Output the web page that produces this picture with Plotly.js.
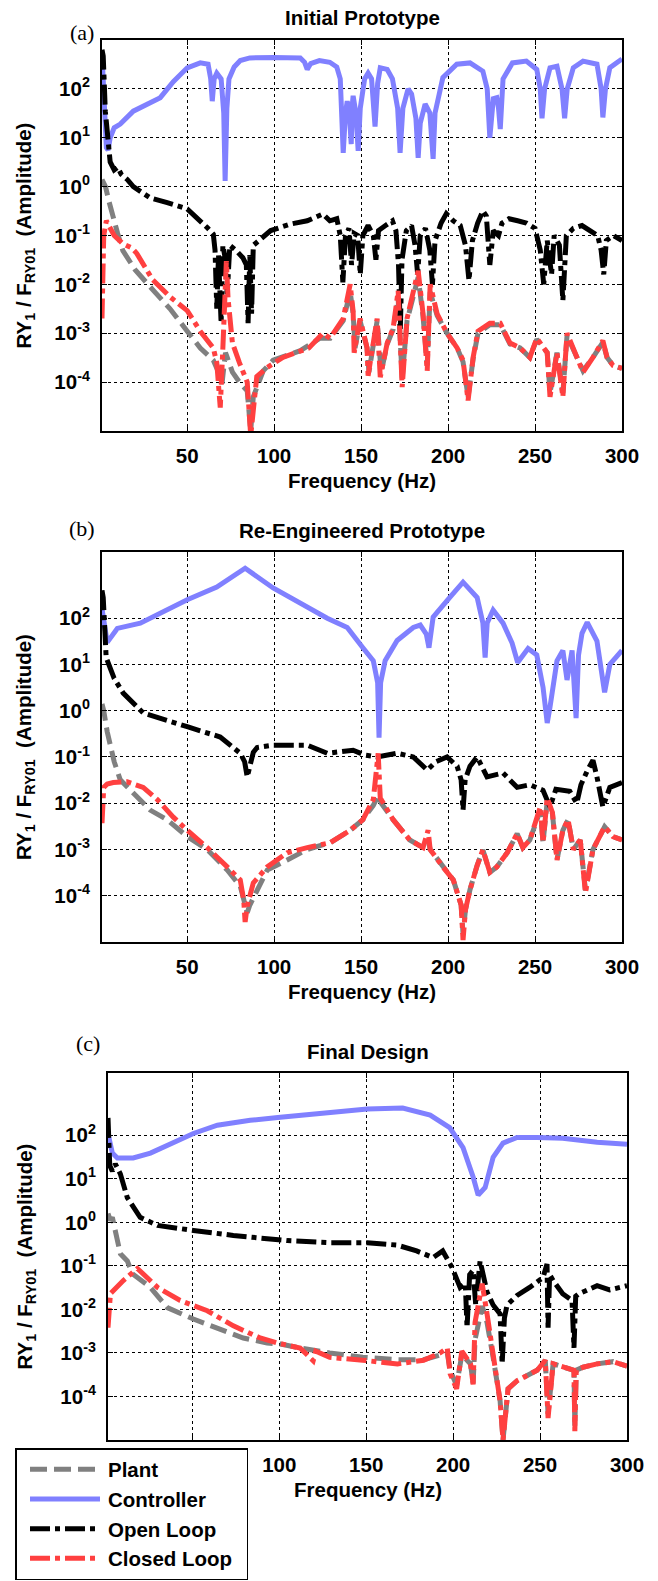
<!DOCTYPE html>
<html>
<head>
<meta charset="utf-8">
<script src="https://cdn.plot.ly/plotly-3.0.1.min.js"></script>
<style>
  html, body { margin: 0; padding: 0; background: #ffffff; }
  #chart { width: 658px; height: 1581px; }
</style>
</head>
<body>
<div id="chart"></div>
<script>
// ---------- (a) Initial Prototype ----------
const aPlantHz = [1, 3, 5, 6.9, 10, 13, 20, 30, 40, 50, 57.5, 65, 68, 70, 71, 72, 73, 76, 80, 84.5, 86.5, 88, 93.7, 99.4, 115, 126.4,
  132.2, 139.7, 143.7, 145.4, 146.5, 149.4, 153.4, 154.5, 159.2, 161.5, 165, 168.4, 171.3, 173.6, 176.4, 179.3, 182.8, 185.6, 188, 189.7,
  193.7, 199.4, 205.2, 208.6, 211.5, 214.4, 217.2, 224, 230, 235.6, 241.4, 247, 251, 257, 258.6, 262.6, 266, 268.4, 274, 277.6,
  283.3, 289, 291.4, 294.8, 300];
const aPlant = [1.4, 1.0, 0.5, 0.27, 0.11, 0.049, 0.02, 0.0079, 0.0032, 0.0011, 5e-4, 2.8e-4, 1.6e-4, 9.3e-5, 2.5e-4, 4e-4, 3.2e-4, 1.6e-4, 1e-4, 6.6e-5, 1e-5, 5e-5, 1.7e-4, 2.8e-4, 4.4e-4, 7.9e-4,
  7.9e-4, 1.8e-3, 7e-3, 2.5e-3, 5e-4, 1.8e-3, 5e-4, 1.6e-4, 1.8e-3, 1.6e-4, 6e-4, 1.2e-3, 5e-3, 1.2e-4, 1.8e-3, 5e-3, 0.014, 2.2e-3, 2.2e-4, 7e-3,
  2.3e-3, 1e-3, 5e-4, 2.6e-4, 5e-5, 3e-4, 1e-3, 1.5e-3, 1.5e-3, 6e-4, 5e-4, 3.2e-4, 7.5e-4, 4e-4, 6e-5, 4e-4, 6e-5, 9e-4, 3.2e-4, 1.7e-4,
  3.2e-4, 6.5e-4, 3.2e-4, 2.2e-4, 1.9e-4];

const aCtrlHz = [1, 2.3, 3.5, 4.5, 5.7, 8, 11.5, 19, 28, 34.5, 42, 50, 57.5, 62, 63.5, 64.4, 65.5, 67, 69.5, 71, 71.8, 72.8, 74, 77, 80.5,
  86, 100, 115, 117.5, 119, 121, 126, 132, 136, 138, 139.7, 141, 142, 143.2, 144.3, 145, 145.4, 147, 148.3, 149.5, 152, 154, 156, 158,
  159.5, 161, 165, 168, 171, 172.4, 174, 177, 179, 181.5, 182.8, 184, 186.8, 189.5, 191.4, 192.5, 197, 205, 212.6, 220, 222.5, 224,
  226, 228, 229, 230, 231.6, 237, 245, 251, 253, 254, 255.5, 258.6, 262.6, 265.5, 267, 268.5, 272, 277.6, 285.6, 288, 289, 290.5, 293, 300];
const aCtrl = [520, 40, 6.3, 5.6, 10, 16, 19, 35, 50, 66, 140, 270, 340, 320, 160, 56, 160, 210, 160, 32, 1.3, 40, 160, 280, 380,
  430, 440, 430, 350, 250, 330, 380, 350, 280, 160, 4.9, 32, 56, 32, 7.4, 50, 72, 32, 5.4, 40, 160, 210, 160, 17,
  130, 270, 250, 160, 40, 4.9, 40, 100, 79, 25, 3.9, 20, 49, 32, 3.7, 32, 170, 320, 340, 230, 100, 10,
  63, 66, 40, 15, 160, 340, 370, 250, 100, 25, 100, 270, 290, 100, 25, 100, 270, 370, 320, 100, 26, 100, 270, 410];

const aOpenHz = [1, 1.7, 2.9, 4.6, 5.7, 8, 10, 12, 15.5, 19, 28.7, 38.5, 50, 61.5, 65, 66, 67, 68, 69.5, 70.5, 72, 73, 74.5, 78, 82,
  84, 85, 86, 87, 88, 98, 109, 119, 128, 132, 136, 138, 139.5, 141, 143, 144.5, 146, 148, 149.5, 151, 154, 157, 158.5, 160, 164,
  168, 170, 171.5, 172.5, 173.5, 176, 179, 181, 182.5, 184, 187, 189.5, 191, 192.5, 196, 199, 203, 207, 210, 212, 214, 217, 220,
  222, 224, 226, 229, 231, 235, 240, 245, 250, 253, 255, 257, 259.5, 261, 264, 266, 268, 272, 277, 282, 286, 288, 289.5, 291, 295, 300];
const aOpen = [630, 470, 35, 8.7, 3.2, 2.2, 2.5, 1.8, 1.4, 1.0, 0.59, 0.47, 0.35, 0.145, 0.107, 0.05, 0.0032, 0.04, 0.0016, 0.063, 0.032, 0.0063, 0.063, 0.05, 0.035,
  0.025, 0.0016, 0.04, 0.0025, 0.063, 0.126, 0.17, 0.2, 0.275, 0.2, 0.22, 0.1, 0.011, 0.1, 0.14, 0.025, 0.11, 0.1, 0.016, 0.1, 0.16, 0.1, 0.032, 0.126, 0.16,
  0.2, 0.126, 0.025, 0.0011, 0.032, 0.126, 0.16, 0.063, 0.016, 0.1, 0.14, 0.05, 0.01, 0.079, 0.18, 0.28, 0.2, 0.16, 0.063, 0.012, 0.079, 0.18, 0.32,
  0.25, 0.025, 0.126, 0.1, 0.18, 0.22, 0.2, 0.18, 0.14, 0.05, 0.01, 0.079, 0.016, 0.1, 0.063, 0.0047, 0.1, 0.14, 0.16, 0.126, 0.1, 0.05, 0.016, 0.079, 0.1, 0.079];

const aClosedHz = [1, 2, 3.5, 5, 8, 13, 18, 21, 22.4, 30, 40, 50, 57.5, 65, 67, 69, 70.5, 71.5, 72.5, 73.5, 76, 80, 84.5, 86.5, 90,
  96, 105, 120, 128, 132.2, 139.7, 143.7, 145.4, 146, 149.4, 153.4, 154, 159.2, 161, 165, 168.4, 171.3, 173.6, 176.4, 179.3, 182.8,
  185.6, 188, 189.7, 193.7, 199.4, 205.2, 208.6, 211.5, 214.4, 217.2, 224, 230, 235.6, 241.4, 247, 251, 257, 258.6, 262.6, 266,
  268.4, 274, 277.6, 283.3, 289, 291.4, 294.8, 300];
const aClosed = [0.002, 0.1, 0.2, 0.16, 0.1, 0.068, 0.056, 0.043, 0.035, 0.0126, 0.0056, 0.0029, 0.0011, 5e-4, 2.5e-4, 3e-5, 5e-4, 0.0032, 0.03, 0.005, 6.3e-4, 2.5e-4, 1e-4, 8e-6, 1.3e-4,
  2e-4, 3.2e-4, 5e-4, 1e-3, 7.9e-4, 2e-3, 0.01, 2.8e-3, 4e-4, 2e-3, 5e-4, 1.35e-4, 2e-3, 1.26e-4, 6.3e-4, 1.26e-3, 7.4e-3, 7.9e-5, 2e-3, 6.3e-3, 0.019,
  2.5e-3, 1.7e-4, 0.01, 2.5e-3, 1e-3, 5e-4, 2.8e-4, 4.2e-5, 3.2e-4, 1.1e-3, 1.6e-3, 1.6e-3, 6.3e-4, 5e-4, 3.2e-4, 7.9e-4, 4e-4, 5e-5, 4e-4, 5e-5,
  1e-3, 3.2e-4, 1.6e-4, 3.2e-4, 7.1e-4, 3.2e-4, 2.2e-4, 1.9e-4];

// ---------- (b) Re-Engineered Prototype ----------
const bPlantHz = [1, 2, 4, 5.7, 8, 11.5, 19, 28.7, 38.5, 50, 61.5, 73, 80.5, 84.5, 86, 90.2, 96, 107.5, 119, 132.2, 143.7, 151, 157, 160,
  161.5, 168.4, 178, 185.6, 188.5, 189.7, 197, 203, 207.5, 208.6, 210, 212.6, 216.7, 220, 224, 228, 234, 239.7, 243, 247, 253, 254.6,
  257, 260, 262.6, 266, 269, 272, 276, 279, 283.3, 290, 294.8, 300];
const bPlant = [1.4, 1.0, 0.35, 0.18, 0.079, 0.032, 0.017, 0.0071, 0.0044, 0.0019, 0.001, 3.6e-4, 1.6e-4, 4.3e-5, 6.3e-5, 1.35e-4, 3.6e-4, 5.9e-4, 1e-3, 1.4e-3, 2.6e-3, 4.4e-3, 0.009, 0.015,
  0.01, 4.4e-3, 1.6e-3, 1.1e-3, 1.6e-3, 1e-3, 4.2e-4, 2.2e-4, 6.3e-5, 1.5e-5, 5e-5, 1.35e-4, 4.5e-4, 9.8e-4, 3.2e-4, 4.2e-4, 8.5e-4, 2.2e-3, 1.1e-3, 1.6e-3, 7e-3, 1.4e-3,
  0.011, 6e-3, 6e-4, 2.6e-3, 4.4e-3, 1e-3, 1.6e-3, 1.3e-4, 1e-3, 3.1e-3, 1.9e-3, 1.6e-3];

const bCtrlHz = [1, 2.5, 4, 9.8, 23, 50, 67, 83.3, 99.4, 130.5, 142, 151, 157, 159.5, 160.3, 161.2, 163.8, 170.7, 180, 184, 187.5, 189,
  190.5, 191.4, 201, 208.6, 216.7, 220, 221.3, 222.5, 225.9, 231.6, 236.8, 240, 246, 251, 254.6, 257, 258.6, 262.6, 266, 268.4, 271.3,
  273.6, 275, 277, 280, 285.6, 290, 293, 300];
const bCtrl = [160, 79, 30, 60, 78, 250, 470, 1200, 450, 100, 63, 23, 12, 4, 0.26, 4, 12, 33, 63, 71, 45, 23,
  63, 105, 280, 600, 280, 79, 14, 79, 150, 78, 29, 11, 22, 16, 3.2, 0.54, 1.2, 12, 20, 4.6, 20,
  0.69, 16, 47, 81, 32, 2.5, 10, 20];

const bOpenHz = [1, 1.7, 3.4, 5.7, 8, 13.2, 24.7, 50, 69, 80.5, 83, 84.5, 86, 88, 90.2, 99.4, 119, 130.5, 145.4, 152, 159.2, 170.7,
  180, 188, 193, 199.4, 205.2, 207.5, 208.6, 209.8, 212.6, 216.7, 222.4, 231.6, 239.7, 247, 254.6, 258.6, 262, 266, 270, 274, 276.4,
  280, 283.3, 285.6, 289, 293, 300];
const bOpen = [400, 280, 14, 8.7, 5.0, 2.4, 0.89, 0.45, 0.27, 0.12, 0.079, 0.037, 0.063, 0.126, 0.16, 0.18, 0.18, 0.12, 0.14, 0.11, 0.1, 0.12,
  0.1, 0.052, 0.079, 0.1, 0.063, 0.032, 0.0071, 0.032, 0.063, 0.1, 0.037, 0.045, 0.022, 0.025, 0.019, 0.0083, 0.02, 0.019, 0.018, 0.01, 0.025,
  0.05, 0.085, 0.037, 0.0083, 0.022, 0.028];

const bClosedHz = [1, 2, 4, 7.5, 15.5, 24.7, 32.8, 42, 50, 61.5, 73, 80.5, 82.5, 83.3, 84.5, 88, 96, 107.5, 119, 132.2, 143.7, 151, 157,
  159.8, 161, 168.4, 178, 185.6, 188.5, 189.7, 197, 203, 207.5, 208.6, 210, 212.6, 216.7, 220, 224, 228, 234, 239.7, 243, 247, 253,
  254.6, 257, 260, 262.6, 266, 269, 272, 276, 279, 283.3, 290, 294.8, 300];
const bClosed = [0.0037, 0.022, 0.026, 0.028, 0.029, 0.022, 0.012, 0.005, 0.0026, 0.0011, 4.2e-4, 2.2e-4, 8e-5, 2.7e-5, 6e-5, 1.9e-4, 4.2e-4, 8.5e-4, 1.1e-3, 1.4e-3, 2.6e-3, 4.4e-3, 0.012,
  0.12, 0.013, 4.4e-3, 1.6e-3, 1.1e-3, 2.6e-3, 1e-3, 4.2e-4, 2.2e-4, 6.3e-5, 1.1e-5, 5e-5, 1.35e-4, 4.5e-4, 9.8e-4, 3.2e-4, 4.2e-4, 8.5e-4, 2.2e-3, 1.1e-3, 1.6e-3, 8.3e-3,
  1.4e-3, 0.013, 6.3e-3, 5.9e-4, 2.6e-3, 4.4e-3, 1e-3, 1.6e-3, 1.15e-4, 1e-3, 3.1e-3, 1.9e-3, 1.6e-3];

// ---------- (c) Final Design ----------
const cPlantHz = [1.5, 2.9, 4, 5.7, 8.6, 12.6, 15.5, 25.9, 35.6, 50.6, 64.4, 79.3, 93, 100.6, 112, 129, 148, 168, 183, 192.5, 196.6,
  198.3, 202, 205, 210, 211.5, 212.6, 216.7, 219.5, 223, 227, 228.7, 231.6, 236.8, 248.3, 253, 254.6, 257.5, 263, 269.5, 270, 270.8,
  274.7, 282.8, 292, 300];
const cPlant = [1.6, 1.1, 1.3, 0.65, 0.19, 0.13, 0.066, 0.032, 0.011, 0.006, 0.0038, 0.0022, 0.0017, 0.0016, 0.0013, 0.001, 8e-4, 7e-4, 7e-4, 9e-4, 1e-3,
  4e-4, 1.8e-4, 9e-4, 5.6e-4, 2e-4, 2e-3, 0.012, 0.005, 7.9e-4, 8e-5, 1e-5, 1.5e-4, 2.3e-4, 4e-4, 6.8e-4, 4e-5, 5.6e-4, 4.7e-4, 4e-4, 2e-5, 4e-4,
  4.7e-4, 5.6e-4, 6.3e-4, 5e-4];

const cCtrlHz = [1.5, 2.3, 4, 6.9, 16, 25.9, 39, 50.6, 64.4, 83.3, 100.6, 129, 150.6, 171, 186.8, 198, 205.7, 211.5, 214.4, 218.4, 223,
  228.7, 236.8, 248.3, 263, 282.8, 300];
const cCtrl = [110, 79, 39, 30, 30, 39, 66, 110, 170, 220, 260, 320, 400, 420, 290, 150, 52, 11, 4.2, 6.3, 31,
  66, 89, 89, 85, 69, 62];

const cOpenHz = [1.5, 2.5, 4, 5.7, 8.6, 12.6, 20, 30, 50.6, 73.6, 104.6, 129, 150.6, 167.8, 179, 188.5, 194, 199.4, 204, 207, 208, 209.5,
  211.5, 213, 215.5, 219.5, 223, 227, 228.2, 229.5, 231, 236.8, 244, 251.7, 254, 254.6, 255.5, 257.5, 263, 268.4, 269.5, 270.5, 272.4,
  282.8, 290, 300];
const cOpen = [250, 20, 15, 22, 13, 3.7, 1.3, 0.85, 0.65, 0.5, 0.38, 0.34, 0.34, 0.3, 0.22, 0.155, 0.22, 0.091, 0.032, 0.04, 0.0038, 0.063,
  0.079, 0.0126, 0.13, 0.025, 0.0126, 0.0079, 5.6e-4, 0.0063, 0.0126, 0.021, 0.032, 0.054, 0.11, 0.0038, 0.063, 0.046, 0.023, 0.016, 0.0013, 0.02, 0.023,
  0.035, 0.028, 0.035];

const cClosedHz = [1.5, 2.9, 10.3, 18.4, 30, 43, 58.6, 73.6, 89, 98.6, 112, 119.5, 121, 129, 148, 168, 183, 192.5, 196.6, 198.3, 202, 205,
  210, 211.5, 212.6, 216.7, 219.5, 223, 227, 228.7, 231.6, 236.8, 248.3, 253, 254.6, 257.5, 263, 269.5, 270, 270.8, 274.7, 282.8, 292, 300];
const cClosed = [0.0038, 0.023, 0.046, 0.087, 0.032, 0.016, 0.0093, 0.0042, 0.0022, 0.0017, 0.0013, 6.6e-4, 1.1e-3, 7.9e-4, 6.8e-4, 5.6e-4, 6.8e-4, 0.001, 0.0013, 3.3e-4, 1.5e-4, 0.0011,
  5.6e-4, 1.9e-4, 0.005, 0.039, 0.0079, 7.9e-4, 7.9e-5, 1e-5, 1.5e-4, 2.3e-4, 4e-4, 6.8e-4, 3.2e-5, 5.6e-4, 4.7e-4, 4e-4, 1.6e-5, 4e-4, 4.7e-4, 5.6e-4, 6.3e-4, 5e-4];

// ---------- labels ----------
const seriesNames = ['Plant', 'Controller', 'Open Loop', 'Closed Loop'];
const panelTitles = ['Initial Prototype', 'Re-Engineered Prototype', 'Final Design'];
const panelTags = ['(a)', '(b)', '(c)'];
const freqTicks = [50, 100, 150, 200, 250, 300];
const ampTicks = [1e-4, 1e-3, 1e-2, 1e-1, 1e0, 1e1, 1e2];
const ampTickText = ['10<sup>-4</sup>', '10<sup>-3</sup>', '10<sup>-2</sup>', '10<sup>-1</sup>', '10<sup>0</sup>', '10<sup>1</sup>', '10<sup>2</sup>'];

// ---------- styling ----------
const SANS = 'Liberation Sans, Arial, Helvetica, sans-serif';
const SERIF = 'Liberation Serif, Times New Roman, serif';
const FS = 20.5;
const boldFont = {family: SANS, size: FS, color: '#000000', weight: 'bold'};
const lineStyles = [
  {color: '#808080', dash: '17px,7px', width: 5},
  {color: '#8080FF', dash: 'solid', width: 5},
  {color: '#000000', dash: '20px,5px,5px,5px', width: 5},
  {color: '#FF4040', dash: '20px,5px,5px,5px', width: 5}
];

const panels = [
  {series: [[aPlantHz, aPlant], [aCtrlHz, aCtrl], [aOpenHz, aOpen], [aClosedHz, aClosed]]},
  {series: [[bPlantHz, bPlant], [bCtrlHz, bCtrl], [bOpenHz, bOpen], [bClosedHz, bClosed]]},
  {series: [[cPlantHz, cPlant], [cCtrlHz, cCtrl], [cOpenHz, cOpen], [cClosedHz, cClosed]]}
];

// Pixel frame of each panel on the 658 x 1581 page
const W = 658, H = 1581;
const frames = [
  {left: 102, right: 622, top: 40, bottom: 431, yTop: 3, xMin: 1, tagDy: 8},
  {left: 102, right: 622, top: 552, bottom: 942, yTop: 3.43, xMin: 1, tagDy: 24},
  {left: 108, right: 627, top: 1073, bottom: 1440, yTop: 3.43, xMin: 1.5, tagDy: 30}
];

const traces = [];
panels.forEach((p, i) => {
  const sfx = i === 0 ? '' : String(i + 1);
  p.series.forEach((s, k) => {
    traces.push({
      type: 'scatter', mode: 'lines',
      x: s[0], y: s[1],
      xaxis: 'x' + sfx, yaxis: 'y' + sfx,
      name: seriesNames[k],
      legendgroup: seriesNames[k],
      showlegend: i === 2,
      line: lineStyles[k],
      hoverinfo: 'skip'
    });
  });
});

const layout = {
  width: W, height: H,
  margin: {l: 0, r: 0, t: 0, b: 0},
  paper_bgcolor: '#ffffff', plot_bgcolor: '#ffffff',
  font: boldFont,
  showlegend: true,
  legend: {
    x: 15 / W, y: 1 / H, xanchor: 'left', yanchor: 'bottom',
    bgcolor: '#ffffff', bordercolor: '#000000', borderwidth: 1.5,
    font: boldFont,
    traceorder: 'normal', itemwidth: 90, tracegroupgap: 1
  },
  annotations: []
};

const axisCommon = {
  showline: true, linecolor: '#000000', linewidth: 2, mirror: 'ticks',
  ticks: 'inside', ticklen: 5, tickwidth: 1, tickcolor: '#000000',
  showgrid: true, gridcolor: '#000000', gridwidth: 1, griddash: 'dot',
  zeroline: false,
  tickfont: boldFont
};

frames.forEach((f, i) => {
  const sfx = i === 0 ? '' : String(i + 1);
  const xd = [f.left / W, f.right / W];
  const yd = [1 - f.bottom / H, 1 - f.top / H];
  layout['xaxis' + sfx] = Object.assign({}, axisCommon, {
    domain: xd, anchor: 'y' + sfx, range: [f.xMin, 300],
    tickmode: 'array', tickvals: freqTicks, ticklabelstandoff: 5
  });
  layout['yaxis' + sfx] = Object.assign({}, axisCommon, {
    domain: yd, anchor: 'x' + sfx, type: 'log', range: [-5, f.yTop],
    tickmode: 'array', tickvals: ampTicks, ticktext: ampTickText, ticklabelstandoff: 6
  });
  const cx = (xd[0] + xd[1]) / 2;
  const cy = (yd[0] + yd[1]) / 2;
  layout.annotations.push(
    {text: panelTitles[i], xref: 'paper', yref: 'paper', x: cx, y: 1 - (f.top - 22) / H,
     xanchor: 'center', yanchor: 'middle', showarrow: false, font: boldFont},
    {text: panelTags[i], xref: 'paper', yref: 'paper', x: (f.left - 20) / W, y: 1 - (f.top - f.tagDy) / H,
     xanchor: 'center', yanchor: 'middle', showarrow: false,
     font: {family: SERIF, size: 22, color: '#000000', weight: 'normal'}},
    {text: 'Frequency (Hz)', xref: 'paper', yref: 'paper', x: cx, y: 1 - (f.bottom + 49) / H,
     xanchor: 'center', yanchor: 'middle', showarrow: false, font: boldFont},
    {text: 'RY<sub>1</sub> / F<sub>RY01</sub>\u00A0\u00A0(Amplitude)', xref: 'paper', yref: 'paper',
     x: 25 / W, y: cy, textangle: -90,
     xanchor: 'center', yanchor: 'middle', showarrow: false, font: boldFont}
  );
});

Plotly.newPlot('chart', traces, layout, {staticPlot: true, displayModeBar: false}).then(gd => {
  // longer line samples in the legend box: each runs from x=30 to x=100 on the page
  gd.querySelectorAll('.legend .legendlines path').forEach(p => {
    const m = p.getScreenCTM();
    if (m) p.setAttribute('d', 'M' + (30 - m.e) + ',0h70');
  });
  // legend labels start at x=108
  gd.querySelectorAll('.legend text.legendtext').forEach(t => {
    const m = t.getScreenCTM();
    if (m) t.setAttribute('x', 108 - m.e);
  });
});
</script>
</body>
</html>
